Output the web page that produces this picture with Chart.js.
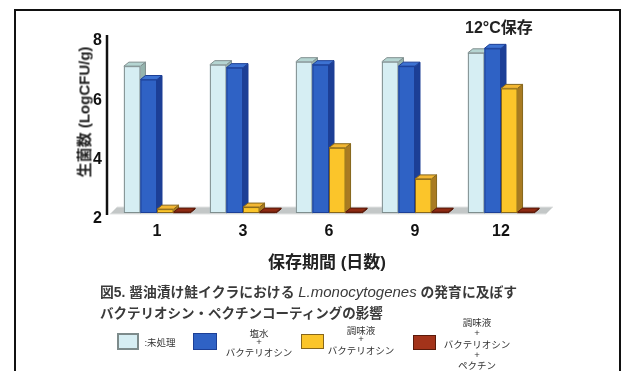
<!DOCTYPE html>
<html>
<head>
<meta charset="utf-8">
<script src="https://cdn.jsdelivr.net/npm/chart.js@4"></script>
<style>
  body { margin: 0; width: 624px; height: 371px; overflow: hidden; background: #fff; position: relative;
         font-family: "Liberation Sans", "Noto Sans CJK JP", sans-serif; color: #222; }
  #frame { position: absolute; left: 14px; top: 9px; width: 603px; height: 420px; border: 2.5px solid #111; }
  #c { position: absolute; left: 0; top: 0; }
  .t { position: absolute; white-space: nowrap; font-weight: bold; }
  .box { position: absolute; box-sizing: border-box; }
  .ln { position: absolute; white-space: nowrap; font-size: 9.5px; color: #333; transform: translate(-50%, -50%); }
</style>
</head>
<body>
<div id="frame"></div>
<canvas id="c" width="624" height="371"></canvas>

<div class="t" style="left:465px;top:14px;font-size:16px;">12°C保存</div>
<div class="t" style="left:83px;top:112px;font-size:15px;transform:translate(-50%,-50%) rotate(-90deg);">生菌数 (LogCFU/g)</div>
<div class="t" style="left:327px;top:260px;font-size:17px;transform:translate(-50%,-50%);">保存期間 (日数)</div>

<div class="t" style="left:100px;top:281px;font-size:13.8px;color:#3a3a3a;">図5. 醤油漬け鮭イクラにおける <i style="font-size:15px;font-weight:normal;">L.monocytogenes</i> の発育に及ぼす</div>
<div class="t" style="left:100px;top:302px;font-size:13.5px;color:#3a3a3a;">バクテリオシン・ペクチンコーティングの影響</div>

<div id="legend"></div>

<script>
/* --------------- Data --------------------- */
const days = ["1", "3", "6", "9", "12"];
const seriesNames = [":未処理", "塩水+バクテリオシン", "調味液+バクテリオシン", "調味液+バクテリオシン+ペクチン"];
const untreated = [6.95, 7.0, 7.1, 7.1, 7.4];
const brineBac = [6.5, 6.9, 7.0, 6.95, 7.55];
const seasonBac = [2.13, 2.2, 4.2, 3.15, 6.2];
const seasonBacPectin = [2.03, 2.03, 2.03, 2.03, 2.03];
const yTicks = [2, 4, 6, 8];

/* --------------- Colors (front / top / side / edge) --------------------- */
const faces = [
  { front: "#d6eef3", top: "#b5d5d2", side: "#95b4ae", edge: "#7f8e8e" },
  { front: "#2f62c5", top: "#3d72d2", side: "#1c3f96", edge: "#1c3f96" },
  { front: "#fbc52a", top: "#f3b733", side: "#a97b22", edge: "#86661c" },
  { front: "#a3331a", top: "#8e2a12", side: "#6a1e0c", edge: "#5a1a0a" },
];
const dx = 5, dy = -4;

/* --------------- 3D look: floor, side/top faces, y axis line --------------------- */
const fake3d = {
  id: "fake3d",
  beforeDatasetsDraw(chart) {
    const { ctx, chartArea: a } = chart;
    ctx.save();
    ctx.fillStyle = "#c3c7c7";
    ctx.strokeStyle = "#e2e4e4";
    ctx.lineWidth = 1;
    ctx.beginPath();
    ctx.moveTo(a.left - 4, a.bottom + 1);
    ctx.lineTo(a.right + 2, a.bottom + 1);
    ctx.lineTo(a.right + 9, a.bottom - 6);
    ctx.lineTo(a.left + 3, a.bottom - 6);
    ctx.closePath();
    ctx.fill();
    ctx.stroke();
    ctx.restore();
  },
  afterDatasetsDraw(chart) {
    const { ctx, chartArea: a } = chart;
    ctx.save();
    ctx.lineWidth = 1;
    chart.data.labels.forEach((_, i) => {
      chart.data.datasets.forEach((ds, d) => {
        const f = faces[d];
        const bar = chart.getDatasetMeta(d).data[i];
        const { x, y, base, width } = bar.getProps(["x", "y", "base", "width"], true);
        const l = x - width / 2, r = x + width / 2;
        ctx.strokeStyle = f.edge;
        // side
        ctx.fillStyle = f.side;
        ctx.beginPath();
        ctx.moveTo(r, base);
        ctx.lineTo(r + dx, base + dy);
        ctx.lineTo(r + dx, y + dy);
        ctx.lineTo(r, y);
        ctx.closePath();
        ctx.fill();
        ctx.stroke();
        // top
        ctx.fillStyle = f.top;
        ctx.beginPath();
        ctx.moveTo(l, y);
        ctx.lineTo(l + dx, y + dy);
        ctx.lineTo(r + dx, y + dy);
        ctx.lineTo(r, y);
        ctx.closePath();
        ctx.fill();
        ctx.stroke();
        // front again so it sits over the previous bar's side
        ctx.fillStyle = f.front;
        ctx.fillRect(l, y, width, base - y);
        ctx.strokeRect(l + 0.5, y + 0.5, width - 1, Math.max(base - y - 1, 0));
      });
    });
    // y axis line
    ctx.strokeStyle = "#111";
    ctx.lineWidth = 2.5;
    ctx.beginPath();
    ctx.moveTo(a.left - 7, a.top);
    ctx.lineTo(a.left - 7, a.bottom + 2);
    ctx.stroke();
    ctx.restore();
  },
};

/* --------------- Chart --------------------- */
const seriesData = [untreated, brineBac, seasonBac, seasonBacPectin];
new Chart(document.getElementById("c"), {
  type: "bar",
  plugins: [fake3d],
  data: {
    labels: days,
    datasets: seriesData.map((vals, d) => ({
      label: seriesNames[d],
      data: vals,
      base: 2,
      backgroundColor: faces[d].front,
      borderColor: faces[d].edge,
      borderWidth: 1,
      barPercentage: 1,
      categoryPercentage: 0.77,
    })),
  },
  options: {
    responsive: false,
    animation: false,
    layout: { padding: { left: 0, right: 80, top: 35, bottom: 128 } },
    plugins: { legend: { display: false }, tooltip: { enabled: false } },
    scales: {
      x: {
        grid: { display: false, drawTicks: false },
        border: { display: false },
        ticks: { padding: 9, color: "#111", font: { family: "Liberation Sans", size: 16, weight: "bold" } },
        afterFit: (s) => { s.height = 30; },
      },
      y: {
        min: 2,
        max: 8,
        grid: { display: false, drawTicks: false },
        border: { display: false },
        afterBuildTicks: (s) => { s.ticks = yTicks.map((v) => ({ value: v })); },
        ticks: { padding: 12, labelOffset: 6, color: "#111", font: { family: "Liberation Sans", size: 16, weight: "bold" } },
        afterFit: (s) => { s.width = 114; },
      },
    },
  },
});

/* --------------- Legend (html) --------------------- */
const legendBoxes = [
  { left: 117, top: 333, w: 22, h: 17, border: "2px solid #7d8b8b" },
  { left: 193, top: 333, w: 24, h: 17, border: "1px solid #1c3f96" },
  { left: 301, top: 334, w: 23, h: 15, border: "1px solid #86661c" },
  { left: 413, top: 335, w: 23, h: 15, border: "1px solid #5a1a0a" },
];
const legendLines = [
  [{ x: 160, y: 342, t: ":未処理" }],
  [{ x: 259, y: 333, t: "塩水" }, { x: 259, y: 341, t: "+" }, { x: 259, y: 352, t: "バクテリオシン" }],
  [{ x: 361, y: 330, t: "調味液" }, { x: 361, y: 338, t: "+" }, { x: 361, y: 350, t: "バクテリオシン" }],
  [{ x: 477, y: 322, t: "調味液" }, { x: 477, y: 332, t: "+" }, { x: 477, y: 344, t: "バクテリオシン" },
   { x: 477, y: 354, t: "+" }, { x: 477, y: 365, t: "ペクチン" }],
];
const legend = document.getElementById("legend");
legendBoxes.forEach((b, d) => {
  const el = document.createElement("div");
  el.className = "box";
  el.style.cssText = `left:${b.left}px;top:${b.top}px;width:${b.w}px;height:${b.h}px;background:${faces[d].front};border:${b.border};`;
  legend.appendChild(el);
  legendLines[d].forEach((ln) => {
    const s = document.createElement("div");
    s.className = "ln";
    s.style.left = ln.x + "px";
    s.style.top = ln.y + "px";
    s.textContent = ln.t;
    legend.appendChild(s);
  });
});
</script>
</body>
</html>
